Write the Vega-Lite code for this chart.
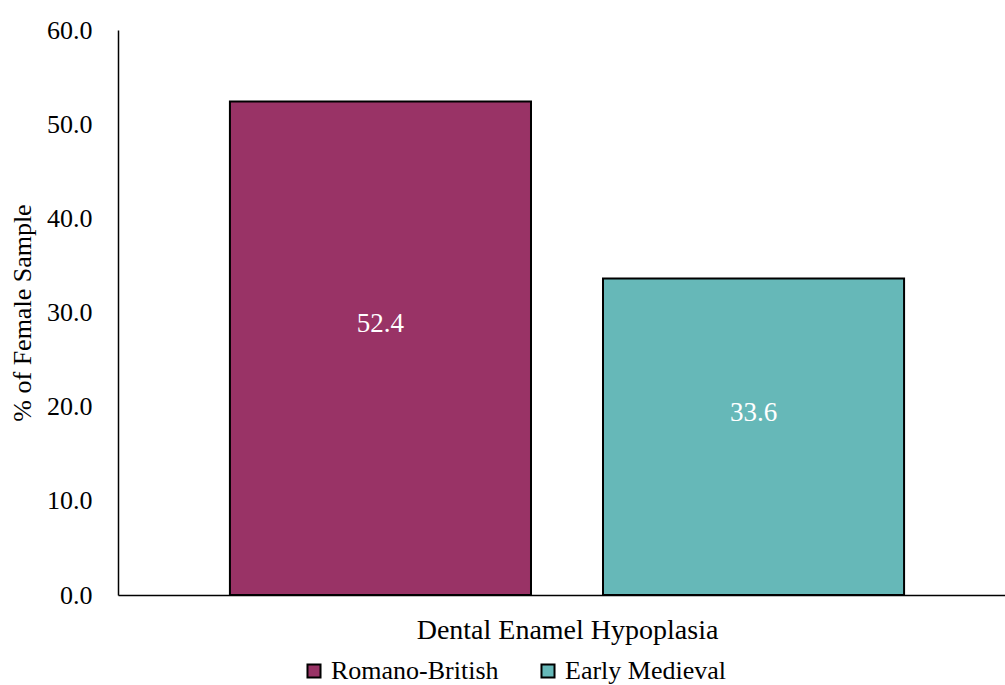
{
  "$schema": "https://vega.github.io/schema/vega-lite/v6.json",
  "width": 898,
  "height": 565,
  "autosize": {"type": "none"},
  "padding": {"left": 118, "top": 30, "right": 0, "bottom": 90},
  "background": "white",
  "config": {
    "font": "Liberation Serif, Times New Roman, serif",
    "view": {"stroke": null},
    "text": {"font": "Liberation Serif, Times New Roman, serif"},
    "legend": {"labelFont": "Liberation Serif, Times New Roman, serif", "padding": 0},
    "axis": {"labelFont": "Liberation Serif, Times New Roman, serif", "titleFont": "Liberation Serif, Times New Roman, serif", "labelColor": "black", "titleColor": "black", "titleFontWeight": "normal"}
  },
  "data": {
    "values": [
      {"group": "Dental Enamel Hypoplasia", "series": "Romano-British", "value": 52.4},
      {"group": "Dental Enamel Hypoplasia", "series": "Early Medieval", "value": 33.6}
    ]
  },
  "encoding": {
    "x": {
      "field": "series",
      "type": "nominal",
      "sort": ["Romano-British", "Early Medieval"],
      "scale": {"paddingInner": 0.193, "paddingOuter": 0.3},
      "axis": {
        "title": "Dental Enamel Hypoplasia",
        "labels": false,
        "ticks": false,
        "domainColor": "black",
        "domainWidth": 1.5,
        "titleFontSize": 28,
        "titleY": 35,
        "titleBaseline": "middle"
      }
    }
  },
  "layer": [
    {
      "mark": {"type": "bar", "stroke": "black", "strokeWidth": 2},
      "encoding": {
        "y": {
          "field": "value",
          "type": "quantitative",
          "scale": {"domain": [0, 60], "nice": false},
          "axis": {
            "title": "% of Female Sample",
            "values": [0, 10, 20, 30, 40, 50, 60],
            "format": ".1f",
            "grid": false,
            "ticks": false,
            "domainColor": "black",
            "domainWidth": 1.5,
            "labelFontSize": 26,
            "labelPadding": 26,
            "titleFontSize": 26,
            "titleX": -96,
            "titleBaseline": "middle"
          }
        },
        "color": {
          "field": "series",
          "type": "nominal",
          "sort": ["Romano-British", "Early Medieval"],
          "scale": {"domain": ["Romano-British", "Early Medieval"], "range": ["#993366", "#66B8B8"]},
          "legend": {
            "title": null,
            "orient": "none",
            "direction": "horizontal",
            "legendX": 183,
            "legendY": 628,
            "symbolType": "square",
            "symbolSize": 170,
            "symbolStrokeColor": "black",
            "symbolStrokeWidth": 2,
            "symbolOpacity": 1,
            "labelFontSize": 26,
            "labelColor": "black",
            "labelOffset": 4,
            "columnPadding": 36,
            "labelLimit": 300
          }
        }
      }
    },
    {
      "mark": {"type": "text", "color": "white", "fontSize": 27, "baseline": "middle", "dy": -24},
      "encoding": {
        "y": {
          "field": "value",
          "type": "quantitative",
          "scale": {"domain": [0, 120], "nice": false},
          "axis": null
        },
        "text": {"field": "value", "type": "quantitative", "format": ".1f"}
      }
    }
  ],
  "resolve": {"scale": {"y": "independent"}}
}
